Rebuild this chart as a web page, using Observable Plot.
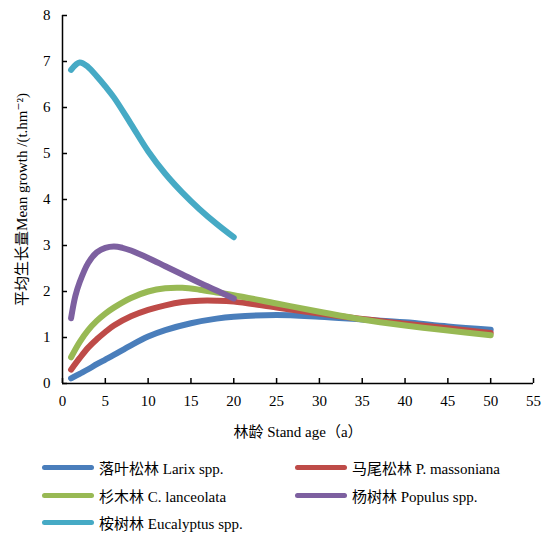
<!DOCTYPE html>
<html>
<head>
<meta charset="utf-8">
<script src="https://cdn.jsdelivr.net/npm/d3@7"></script>
<script src="https://cdn.jsdelivr.net/npm/@observablehq/plot@0.6"></script>
<style>
  html, body { margin: 0; padding: 0; background: #fff; }
  #wrap { position: relative; width: 550px; height: 534px; font-family: "Times New Roman", "Liberation Serif", "DejaVu Serif", "Noto Sans CJK SC", serif; }
  #legend { position: absolute; left: 42px; top: 454px; display: grid; grid-template-columns: 253px 253px; grid-auto-rows: 27.5px; font-size: 15px; color: #000; }
  .item { display: flex; align-items: center; white-space: nowrap; }
  .sw { width: 52px; height: 5px; border-radius: 3px; margin-right: 5px; }
</style>
</head>
<body>
<div id="wrap"><div id="chart"></div><div id="legend"></div></div>
<script>
const seriesNames = ["落叶松林 Larix spp.", "马尾松林 P. massoniana", "杉木林 C. lanceolata", "杨树林 Populus spp.", "桉树林 Eucalyptus spp."];
const colors = ["#4a7ebb", "#be4b48", "#98b954", "#7d60a0", "#46aac5"];

const larixAge = [1,2,3,4,5,6,8,10,12,15,18,20,25,30,35,40,45,50];
const larixVal = [0.11,0.21,0.31,0.42,0.52,0.62,0.83,1.02,1.16,1.31,1.41,1.45,1.49,1.45,1.39,1.33,1.24,1.17];

const massonAge = [1,2,3,4,5,6,8,10,12,14,16,18,20,25,30,35,40,45,50];
const massonVal = [0.3,0.55,0.78,0.96,1.12,1.26,1.46,1.6,1.7,1.77,1.8,1.8,1.78,1.65,1.52,1.4,1.3,1.2,1.1];

const cunnAge = [1,2,3,4,5,6,8,10,12,14,16,18,20,25,30,35,40,45,50];
const cunnVal = [0.57,0.9,1.16,1.36,1.52,1.65,1.86,2.0,2.07,2.08,2.04,1.98,1.92,1.74,1.56,1.39,1.26,1.15,1.05];

const populusAge = [1,1.5,2,3,4,5,6,7,8,10,12,14,16,18,20];
const populusVal = [1.42,1.9,2.2,2.62,2.85,2.95,2.98,2.95,2.89,2.73,2.55,2.37,2.19,2.02,1.85];

const eucAge = [1,2,3,4,5,6,8,10,12,14,16,18,20];
const eucVal = [6.82,6.98,6.88,6.68,6.46,6.22,5.64,5.05,4.56,4.15,3.79,3.47,3.18];

const xTicks = [0,5,10,15,20,25,30,35,40,45,50,55];
const yTicks = [0,1,2,3,4,5,6,7,8];
const xLabel = "林龄 Stand age（a）";
const yLabel = "平均生长量Mean growth /(t.hm⁻²)";

const groups = [[larixAge, larixVal], [massonAge, massonVal], [cunnAge, cunnVal], [populusAge, populusVal], [eucAge, eucVal]];
const rows = [];
groups.forEach(([ages, vals], k) => ages.forEach((a, i) => rows.push({age: a, value: vals[i], series: seriesNames[k]})));

const font = "'Times New Roman', 'Liberation Serif', 'DejaVu Serif', 'Noto Sans CJK SC', serif";

const chart = Plot.plot({
  width: 550,
  height: 445,
  marginLeft: 62,
  marginRight: 17,
  marginTop: 15,
  marginBottom: 62,
  x: {domain: [0, 55]},
  y: {domain: [0, 8]},
  color: {domain: seriesNames, range: colors},
  style: {fontFamily: font, fontSize: "15px", color: "#000", background: "#fff"},
  marks: [
    Plot.axisX({ticks: xTicks, tickSize: 0, tickPadding: 12, label: null, fontSize: 15}),
    Plot.axisY({ticks: yTicks, tickSize: 0, tickPadding: 12, label: null, fontSize: 15}),
    Plot.ruleX(xTicks, {y1: 0, y2: 0, insetBottom: 5, stroke: "#000", strokeWidth: 1.5}),
    Plot.ruleY(yTicks, {x1: 0, x2: 0, insetRight: -5, stroke: "#000", strokeWidth: 1.5}),
    Plot.ruleY([0], {stroke: "#000", strokeWidth: 1.5}),
    Plot.ruleX([0], {stroke: "#000", strokeWidth: 1.5}),
    Plot.line(rows, {x: "age", y: "value", z: "series", stroke: "series", curve: "catmull-rom", strokeWidth: 6, strokeLinecap: "round", strokeLinejoin: "round"}),
    Plot.text([xLabel], {frameAnchor: "bottom", lineAnchor: "middle", dy: 49, fontSize: 15, fill: "#000"}),
    Plot.text([yLabel], {frameAnchor: "left", textAnchor: "middle", lineAnchor: "middle", rotate: -90, dx: -40, fontSize: 15, fill: "#000"})
  ]
});
document.getElementById("chart").appendChild(chart);

const legend = document.getElementById("legend");
seriesNames.forEach((name, i) => {
  const it = document.createElement("div");
  it.className = "item";
  const sw = document.createElement("span");
  sw.className = "sw";
  sw.style.background = colors[i];
  const tx = document.createElement("span");
  tx.textContent = name;
  it.appendChild(sw); it.appendChild(tx);
  legend.appendChild(it);
});
</script>
</body>
</html>
